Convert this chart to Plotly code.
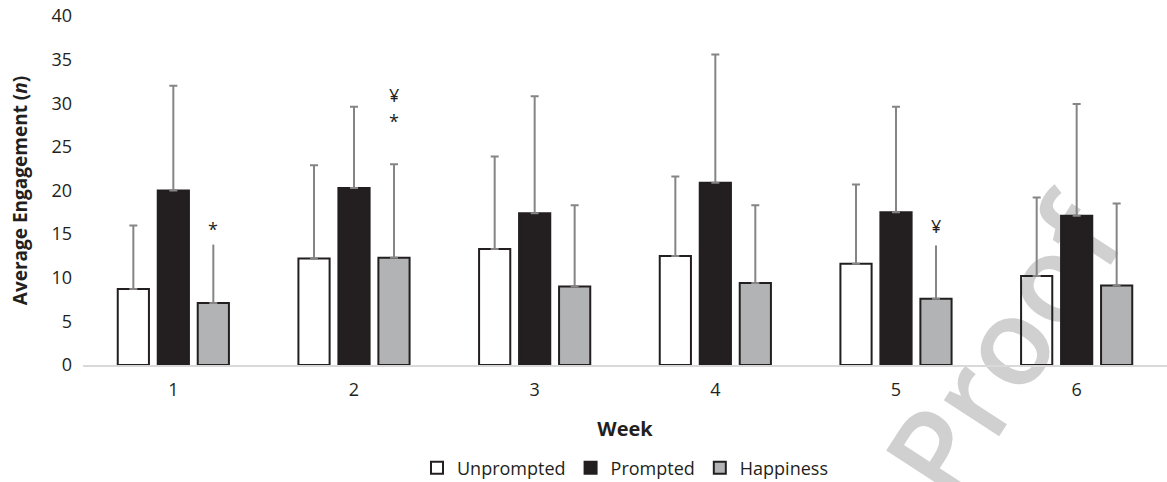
import plotly.graph_objects as go

weeks = ["1", "2", "3", "4", "5", "6"]
unprompted = [8.7, 12.2, 13.3, 12.5, 11.6, 10.2]
unprompted_sd = [7.3, 10.7, 10.6, 9.1, 9.1, 9.0]
prompted = [20.0, 20.3, 17.4, 20.9, 17.5, 17.1]
prompted_sd = [12.0, 9.3, 13.4, 14.7, 12.1, 12.8]
happiness = [7.1, 12.3, 9.0, 9.4, 7.6, 9.1]
happiness_sd = [6.7, 10.7, 9.3, 8.9, 6.1, 9.4]
# weeks whose Happiness error bar is drawn without a cap (label sits on it)
happiness_nocap = [True, False, False, False, True, False]

# significance markers: (week, symbol, y)
sig_weeks = ["1", "2", "2", "5"]
sig_symbols = ["*", "*", "¥", "¥"]
sig_y = [15.6, 28.0, 30.9, 15.9]

INK = "#231f20"
ERR = "#858585"
GRAY = "#b2b3b5"
FONT = "Open Sans"
BARGAP = 0.336
GROUPGAP = 0.22

fig = go.Figure()


def err(vals, width):
    return dict(type="data", array=vals, symmetric=False, arrayminus=[0] * len(vals),
                color=ERR, thickness=2, width=width, visible=True)


fig.add_trace(go.Bar(
    name="Unprompted", x=weeks, y=unprompted, offsetgroup="u",
    marker=dict(color="rgba(255,255,255,0)", line=dict(color=INK, width=2)),
    error_y=err(unprompted_sd, 4),
))
fig.add_trace(go.Bar(
    name="Prompted", x=weeks, y=prompted, offsetgroup="p",
    marker=dict(color=INK, line=dict(color=INK, width=2)),
    error_y=err(prompted_sd, 4),
))
cap_sd = [float("nan") if nc else s for s, nc in zip(happiness_sd, happiness_nocap)]
nocap_sd = [s if nc else float("nan") for s, nc in zip(happiness_sd, happiness_nocap)]
fig.add_trace(go.Bar(
    name="Happiness", x=weeks, y=happiness, offsetgroup="h",
    marker=dict(color=GRAY, line=dict(color=INK, width=2)),
    error_y=err(cap_sd, 4),
))
fig.add_trace(go.Bar(
    name="Happiness", x=weeks, y=happiness, offsetgroup="h", showlegend=False,
    marker=dict(color="rgba(0,0,0,0)", line=dict(width=0)),
    error_y=err(nocap_sd, 0), hoverinfo="skip",
))

h_offset = (1 - BARGAP) / 3
for w, s, yv in zip(sig_weeks, sig_symbols, sig_y):
    fig.add_annotation(x=weeks.index(w) + h_offset, y=yv, xref="x", yref="y",
                       text=s, showarrow=False, yanchor="middle",
                       font=dict(family=FONT, size=18, color=INK))

# watermark
fig.add_shape(type="rect", xref="paper", yref="paper", x0=0.85, x1=0.856, y0=0.035, y1=0.041,
              line=dict(width=0), fillcolor="rgba(0,0,0,0)", layer="below",
              label=dict(text="Proof", textangle=-57, textposition="middle center",
                         font=dict(family=FONT, size=122, color="#d0d0d0", weight=600)))

fig.update_layout(
    width=1167, height=482,
    margin=dict(l=83, r=0, t=16, b=117, autoexpand=False),
    paper_bgcolor="white", plot_bgcolor="white",
    barmode="group", bargap=BARGAP, bargroupgap=GROUPGAP,
    font=dict(family=FONT, size=18, color=INK),
    showlegend=True,
    legend=dict(orientation="h", x=0.5, xanchor="center", y=-0.295, yanchor="middle",
                font=dict(family=FONT, size=18, color=INK), itemwidth=30,
                bgcolor="rgba(0,0,0,0)"),
)
fig.update_xaxes(
    type="category", showline=True, linecolor="#d9d9d9", linewidth=1.5, automargin=False,
    showgrid=False, ticks="", zeroline=False, ticklabelstandoff=8,
    tickfont=dict(family=FONT, size=18, color=INK),
    title=dict(text="<b>Week</b>", font=dict(family=FONT, size=20, color=INK), standoff=22),
)
fig.update_yaxes(
    range=[0, 40], dtick=5, showgrid=False, showline=False, zeroline=False, ticks="",
    automargin=False,
    tickfont=dict(family=FONT, size=18, color=INK), ticklabelstandoff=10,
    title=dict(text="<b>Average Engagement (<i>n</i>)</b>",
               font=dict(family=FONT, size=19, color=INK), standoff=18),
)

fig.write_html("out.html", config={"displayModeBar": False},
               post_script="document.body.style.margin='0px';")
